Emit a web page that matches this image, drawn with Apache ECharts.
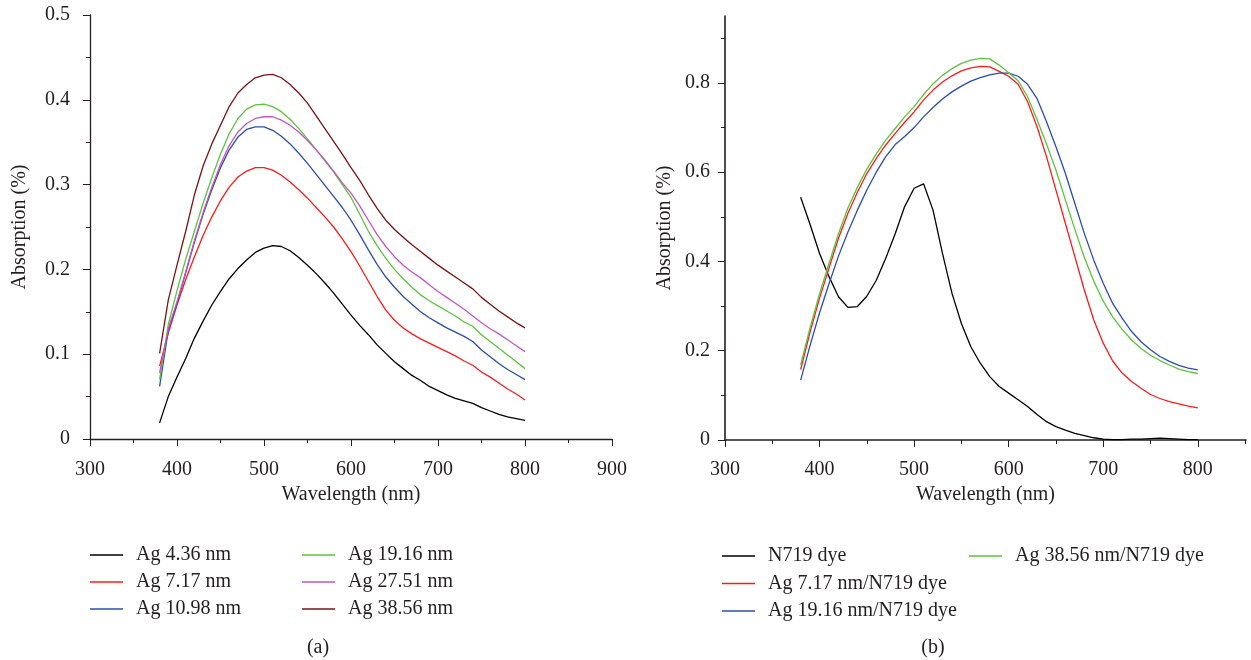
<!DOCTYPE html>
<html><head><meta charset="utf-8">
<script src="https://cdn.jsdelivr.net/npm/echarts@6/dist/echarts.min.js"></script>
<style>html,body{margin:0;padding:0;background:#fff}#c{width:1251px;height:660px}</style>
</head><body><div id="c"></div>
<script>
// Wavelength grid (nm)
const wavelengths = [380,390,400,410,420,430,440,450,460,470,480,490,500,510,520,530,540,550,560,570,580,590,600,610,620,630,640,650,660,670,680,690,700,710,720,730,740,750,760,770,780,790,800];

// Panel (a): Ag nanoparticles
const ag436 = [0.019,0.050,0.073,0.095,0.119,0.139,0.158,0.174,0.189,0.201,0.211,0.220,0.225,0.228,0.227,0.222,0.214,0.205,0.195,0.184,0.172,0.159,0.146,0.134,0.123,0.111,0.101,0.091,0.083,0.075,0.069,0.062,0.057,0.052,0.048,0.045,0.042,0.037,0.033,0.029,0.026,0.024,0.022];
const ag717 = [0.086,0.125,0.158,0.188,0.215,0.240,0.262,0.281,0.297,0.309,0.316,0.320,0.320,0.317,0.311,0.303,0.294,0.284,0.273,0.262,0.250,0.236,0.221,0.204,0.186,0.168,0.152,0.140,0.131,0.124,0.118,0.113,0.108,0.103,0.098,0.092,0.087,0.079,0.073,0.066,0.059,0.053,0.046];
const ag1098 = [0.062,0.128,0.160,0.196,0.232,0.265,0.294,0.320,0.341,0.356,0.365,0.368,0.368,0.364,0.357,0.348,0.337,0.325,0.312,0.299,0.286,0.273,0.258,0.241,0.223,0.206,0.191,0.179,0.168,0.159,0.150,0.143,0.137,0.131,0.126,0.121,0.115,0.105,0.097,0.089,0.082,0.076,0.070];
const ag1916 = [0.070,0.135,0.175,0.212,0.245,0.278,0.308,0.336,0.360,0.378,0.389,0.394,0.395,0.392,0.386,0.377,0.366,0.354,0.341,0.328,0.315,0.300,0.285,0.265,0.245,0.228,0.213,0.200,0.189,0.179,0.170,0.163,0.157,0.151,0.145,0.138,0.133,0.123,0.115,0.107,0.099,0.091,0.083];
const ag2751 = [0.078,0.130,0.162,0.197,0.234,0.267,0.297,0.324,0.346,0.362,0.372,0.378,0.380,0.380,0.376,0.370,0.362,0.352,0.341,0.329,0.316,0.302,0.290,0.275,0.258,0.241,0.227,0.215,0.205,0.197,0.190,0.182,0.174,0.167,0.160,0.153,0.145,0.137,0.130,0.124,0.117,0.110,0.103];
const ag3856 = [0.101,0.164,0.205,0.245,0.288,0.322,0.348,0.370,0.392,0.408,0.418,0.426,0.429,0.430,0.426,0.418,0.408,0.396,0.381,0.366,0.351,0.336,0.320,0.305,0.288,0.272,0.258,0.247,0.238,0.229,0.221,0.213,0.205,0.198,0.191,0.184,0.177,0.167,0.159,0.151,0.144,0.137,0.131];

// Panel (b): dye and Ag/dye
const n719 = [0.544,0.483,0.418,0.366,0.321,0.297,0.299,0.322,0.358,0.407,0.462,0.523,0.564,0.574,0.515,0.418,0.329,0.261,0.209,0.172,0.142,0.120,0.105,0.090,0.075,0.057,0.041,0.030,0.022,0.015,0.010,0.005,0.002,0.001,0.001,0.002,0.002,0.003,0.004,0.003,0.002,0.001,0.001];
const ag717dye = [0.158,0.242,0.318,0.385,0.452,0.508,0.555,0.597,0.631,0.661,0.687,0.712,0.735,0.762,0.784,0.802,0.816,0.827,0.834,0.837,0.836,0.826,0.815,0.797,0.758,0.702,0.635,0.560,0.485,0.411,0.336,0.269,0.217,0.177,0.150,0.131,0.116,0.102,0.093,0.086,0.081,0.076,0.072];
const ag1916dye = [0.134,0.212,0.285,0.350,0.412,0.466,0.515,0.560,0.600,0.635,0.662,0.680,0.700,0.724,0.745,0.764,0.780,0.793,0.804,0.812,0.818,0.822,0.822,0.815,0.797,0.765,0.713,0.657,0.597,0.530,0.463,0.403,0.351,0.306,0.273,0.243,0.220,0.202,0.187,0.176,0.167,0.161,0.157];
const ag3856dye = [0.168,0.252,0.328,0.396,0.462,0.520,0.566,0.607,0.641,0.672,0.698,0.724,0.747,0.774,0.798,0.817,0.832,0.844,0.851,0.855,0.854,0.840,0.823,0.805,0.769,0.718,0.663,0.605,0.538,0.472,0.409,0.356,0.311,0.276,0.248,0.224,0.205,0.190,0.178,0.168,0.159,0.153,0.149];

// Tick labels
const xTicksA = [300,400,500,600,700,800,900];
const yTicksA = [0,0.1,0.2,0.3,0.4,0.5];
const xTicksB = [300,400,500,600,700,800];
const yTicksB = [0,0.2,0.4,0.6,0.8];

const FONT = '"Liberation Serif", "Times New Roman", serif';
const FS = 20;
const TXT = '#231f20';
const AX = '#231f20';

function pairs(vals){ return wavelengths.map((w,i)=>[w, vals[i]]); }
function line(name, vals, color, axis){
  return {name, type:'line', xAxisIndex:axis, yAxisIndex:axis, data:pairs(vals),
    symbol:'none', showSymbol:false, smooth:false, animation:false,
    lineStyle:{color, width:1.3}, itemStyle:{color}, emphasis:{disabled:true}};
}
function xAxis(grid, min, max, ticks, lw, margin){
  return {type:'value', gridIndex:grid, min, max, interval:100,
    name:'Wavelength (nm)', nameLocation:'middle', nameGap:45,
    nameTextStyle:{fontFamily:FONT, fontSize:FS, color:TXT},
    axisLine:{show:true, onZero:false, lineStyle:{color:AX, width:lw}},
    axisTick:{show:true, length:7, customValues:ticks, lineStyle:{color:AX, width:1}},
    minorTick:{show:true, splitNumber:2, length:4, lineStyle:{color:AX, width:1}},
    axisLabel:{customValues:ticks, margin, fontFamily:FONT, fontSize:FS, color:TXT},
    splitLine:{show:false}, minorSplitLine:{show:false}};
}
function yAxis(grid, max, interval, ticks, gap, lw, margin){
  return {type:'value', gridIndex:grid, min:0, max, interval,
    name:'Absorption (%)', nameLocation:'middle', nameGap:gap, nameRotate:90,
    nameTextStyle:{fontFamily:FONT, fontSize:FS, color:TXT},
    axisLine:{show:true, onZero:false, lineStyle:{color:AX, width:lw}},
    axisTick:{show:true, length:7, customValues:ticks, lineStyle:{color:AX, width:1}},
    minorTick:{show:true, splitNumber:2, length:4, lineStyle:{color:AX, width:1}},
    axisLabel:{customValues:ticks, margin, fontFamily:FONT, fontSize:FS, color:TXT},
    splitLine:{show:false}, minorSplitLine:{show:false}};
}
function legend(left, top, names, gap){
  return {show:true, left, top, orient:'vertical', padding:0, icon:'rect', itemWidth:33, itemHeight:1.5, itemGap:gap,
    selectedMode:false, data:names,
    textStyle:{fontFamily:FONT, fontSize:FS, color:TXT, padding:[0,0,0,8]}};
}

const chart = echarts.init(document.getElementById('c'), null, {renderer:'canvas'});
chart.setOption({
  backgroundColor:'#fff',
  animation:false,
  textStyle:{fontFamily:FONT},
  title:[
    {text:'(a)', left:318, top:638, textAlign:'center', padding:0, textStyle:{fontFamily:FONT, fontSize:FS, fontWeight:'normal', color:TXT}},
    {text:'(b)', left:933, top:638, textAlign:'center', padding:0, textStyle:{fontFamily:FONT, fontSize:FS, fontWeight:'normal', color:TXT}}
  ],
  grid:[
    {left:90, top:15, width:522, height:424},
    {left:725, top:16, width:521, height:424}
  ],
  xAxis:[ xAxis(0,300,900,xTicksA,1.3,21), xAxis(1,300,851,xTicksB,1.6,20) ],
  yAxis:[ yAxis(0,0.5,0.1,yTicksA,60,1.3,20), yAxis(1,0.95,0.2,yTicksB,50,1.6,15) ],
  legend:[
    legend(90, 545, ['Ag 4.36 nm','Ag 7.17 nm','Ag 10.98 nm'], 7),
    legend(302, 545, ['Ag 19.16 nm','Ag 27.51 nm','Ag 38.56 nm'], 7),
    legend(722, 546, ['N719 dye','Ag 7.17 nm/N719 dye','Ag 19.16 nm/N719 dye'], 7.5),
    legend(969, 546, ['Ag 38.56 nm/N719 dye'], 7.5)
  ],
  series:[
    line('Ag 4.36 nm', ag436, '#000000', 0),
    line('Ag 7.17 nm', ag717, '#ff1a1a', 0),
    line('Ag 10.98 nm', ag1098, '#2a4db5', 0),
    line('Ag 19.16 nm', ag1916, '#5cc43c', 0),
    line('Ag 27.51 nm', ag2751, '#c456c4', 0),
    line('Ag 38.56 nm', ag3856, '#7d1212', 0),
    line('N719 dye', n719, '#000000', 1),
    line('Ag 7.17 nm/N719 dye', ag717dye, '#ff1a1a', 1),
    line('Ag 19.16 nm/N719 dye', ag1916dye, '#2a4db5', 1),
    line('Ag 38.56 nm/N719 dye', ag3856dye, '#5cc43c', 1)
  ]
});
</script>
</body></html>
